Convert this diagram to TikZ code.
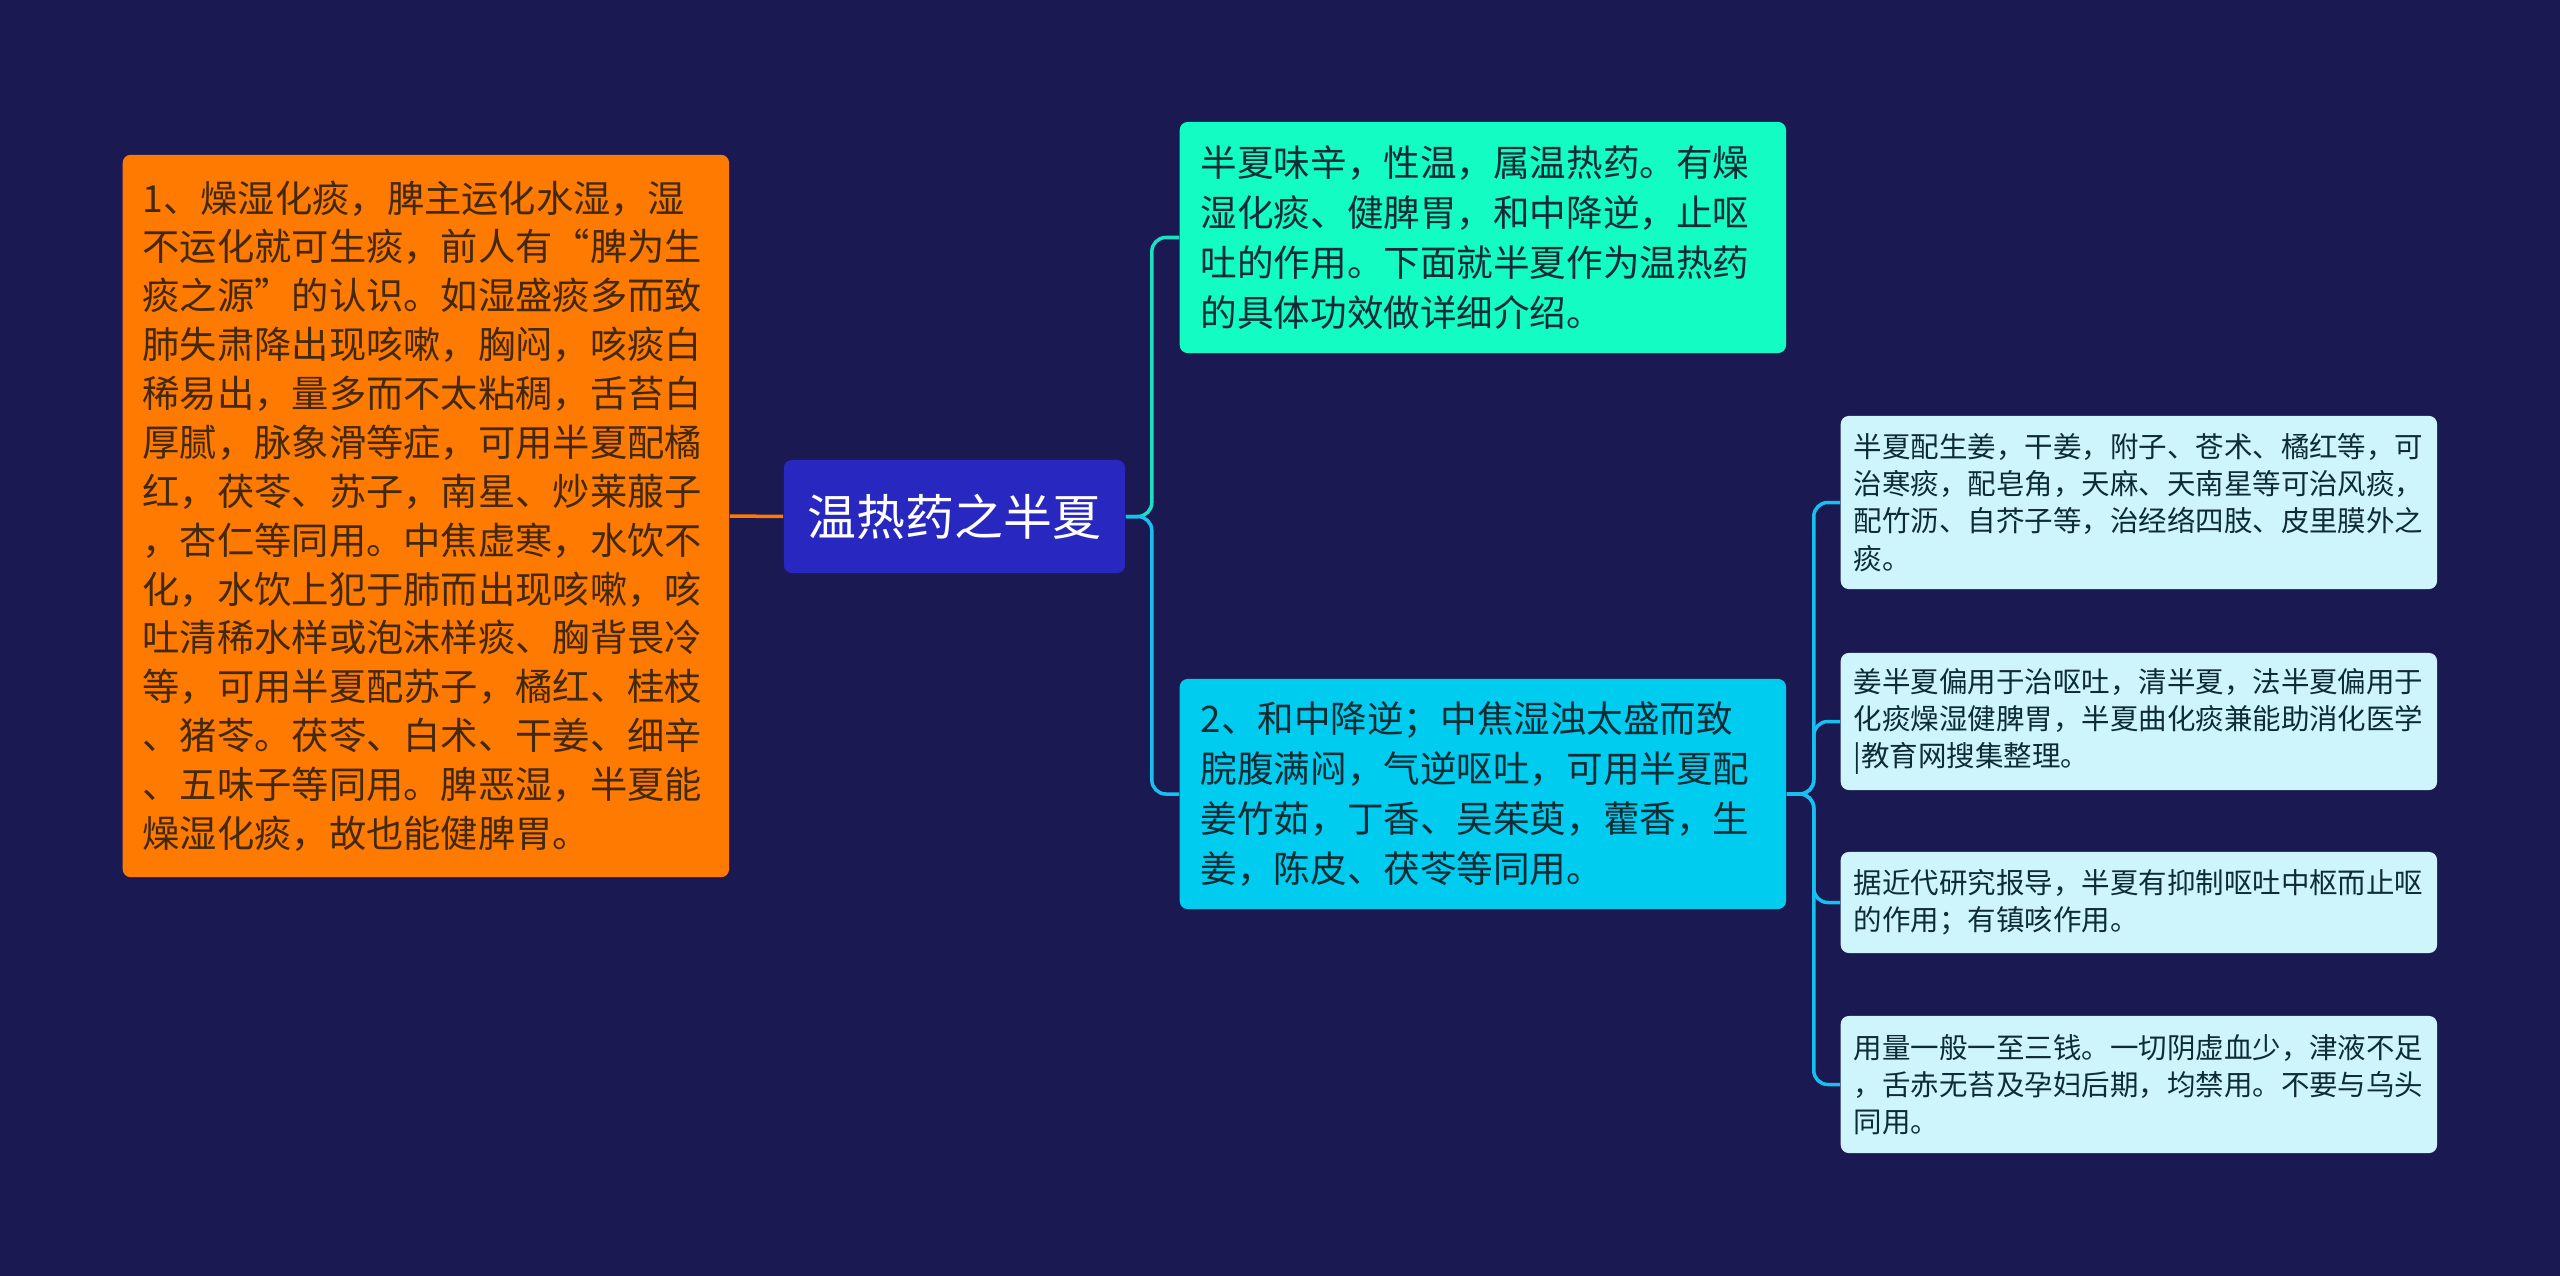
\documentclass[tikz,border=0pt]{standalone}
\usepackage{fontspec}
\setmainfont{Noto Sans CJK SC}
\definecolor{mmbg}{RGB}{27,25,82}
\definecolor{mmorange}{RGB}{255,122,0}
\definecolor{mmroot}{RGB}{40,40,192}
\definecolor{mmteal}{RGB}{18,252,196}
\definecolor{mmcyan}{RGB}{0,204,240}
\definecolor{mmleaf}{RGB}{206,244,252}
\definecolor{mmbrown}{RGB}{66,40,12}
\definecolor{mmdark}{RGB}{14,44,52}
\definecolor{mmlinecyan}{RGB}{24,192,240}
\definecolor{mmlineteal}{RGB}{26,224,196}
\usetikzlibrary{positioning}

\begin{document}
\begin{tikzpicture}[x=0.01cm, y=-0.01cm,
    mmbox/.style={rounded corners=0.08cm, align=left, anchor=west, inner ysep=0pt},
    mmmain/.style={mmbox, inner xsep=0.2cm, text width=5.66cm,
      font=\fontsize{10.6pt}{13.9pt}\selectfont},
    mmtopic/.style={mmbox, inner xsep=0.21cm, text width=5.64cm,
      font=\fontsize{10.4pt}{14.2pt}\selectfont, text=mmdark},
    mmsub/.style={mmbox, fill=mmleaf, inner xsep=0.13cm, text width=5.70cm,
      font=\fontsize{8.1pt}{10.6pt}\selectfont, text=mmdark},
    mmlink/.style={line width=0.035cm, rounded corners=0.14cm}]

% --- canvas ---
\useasboundingbox (0,0) rectangle (2560,1276);
\fill[mmbg] (0,0) rectangle (2560,1276);

% --- root ---
\node[fill=mmroot, rounded corners=0.08cm, text=white, minimum width=3.41cm,
      minimum height=1.13cm, font=\fontsize{13.9pt}{16pt}\selectfont]
      (root) at (954.5,516.5) {温热药之半夏};

% --- left branch ---
\node[mmmain, fill=mmorange, text=mmbrown, minimum height=7.22cm]
      (dryness) at (122,516) {1、燥湿化痰，脾主运化水湿，湿\\
不运化就可生痰，前人有“脾为生\\
痰之源”的认识。如湿盛痰多而致\\
肺失肃降出现咳嗽，胸闷，咳痰白\\
稀易出，量多而不太粘稠，舌苔白\\
厚腻，脉象滑等症，可用半夏配橘\\
红，茯苓、苏子，南星、炒莱菔子\\
，杏仁等同用。中焦虚寒，水饮不\\
化，水饮上犯于肺而出现咳嗽，咳\\
吐清稀水样或泡沫样痰、胸背畏冷\\
等，可用半夏配苏子，橘红、桂枝\\
、猪苓。茯苓、白术、干姜、细辛\\
、五味子等同用。脾恶湿，半夏能\\
燥湿化痰，故也能健脾胃。};

% --- right branches ---
\node[mmtopic, fill=mmteal, minimum height=2.31cm]
      (intro) at (1179,237.5) {半夏味辛，性温，属温热药。有燥\\
湿化痰、健脾胃，和中降逆，止呕\\
吐的作用。下面就半夏作为温热药\\
的具体功效做详细介绍。};
\node[mmtopic, fill=mmcyan, minimum height=2.30cm]
      (stomach) at (1179,794) {2、和中降逆；中焦湿浊太盛而致\\
脘腹满闷，气逆呕吐，可用半夏配\\
姜竹茹，丁香、吴茱萸，藿香，生\\
姜，陈皮、茯苓等同用。};

% --- details ---
\node[mmsub, minimum height=1.73cm] (pairing) at (1840,502.5)
      {半夏配生姜，干姜，附子、苍术、橘红等，可\\
治寒痰，配皂角，天麻、天南星等可治风痰，\\
配竹沥、自芥子等，治经络四肢、皮里膜外之\\
痰。};
\node[mmsub, minimum height=1.37cm] (kinds) at (1840,721.5)
      {姜半夏偏用于治呕吐，清半夏，法半夏偏用于\\
化痰燥湿健脾胃，半夏曲化痰兼能助消化医学\\
|教育网搜集整理。};
\node[mmsub, minimum height=1.01cm] (research) at (1840,902.5)
      {据近代研究报导，半夏有抑制呕吐中枢而止呕\\
的作用；有镇咳作用。};
\node[mmsub, minimum height=1.37cm] (dosage) at (1840,1084.5)
      {用量一般一至三钱。一切阴虚血少，津液不足\\
，舌赤无苔及孕妇后期，均禁用。不要与乌头\\
同用。};

% --- links ---
\draw[mmlink, mmorange] (dryness.east) -- (root.west);
\draw[mmlink, mmlineteal] (root.east) -- ++(26,0) |- (intro.west);
\draw[mmlink, mmlinecyan] (root.east) -- ++(26,0) |- (stomach.west);
\foreach \leaf in {pairing,kinds,research,dosage}
  \draw[mmlink, mmlinecyan] (stomach.east) -- ++(27,0) |- (\leaf.west);

\end{tikzpicture}
\end{document}
